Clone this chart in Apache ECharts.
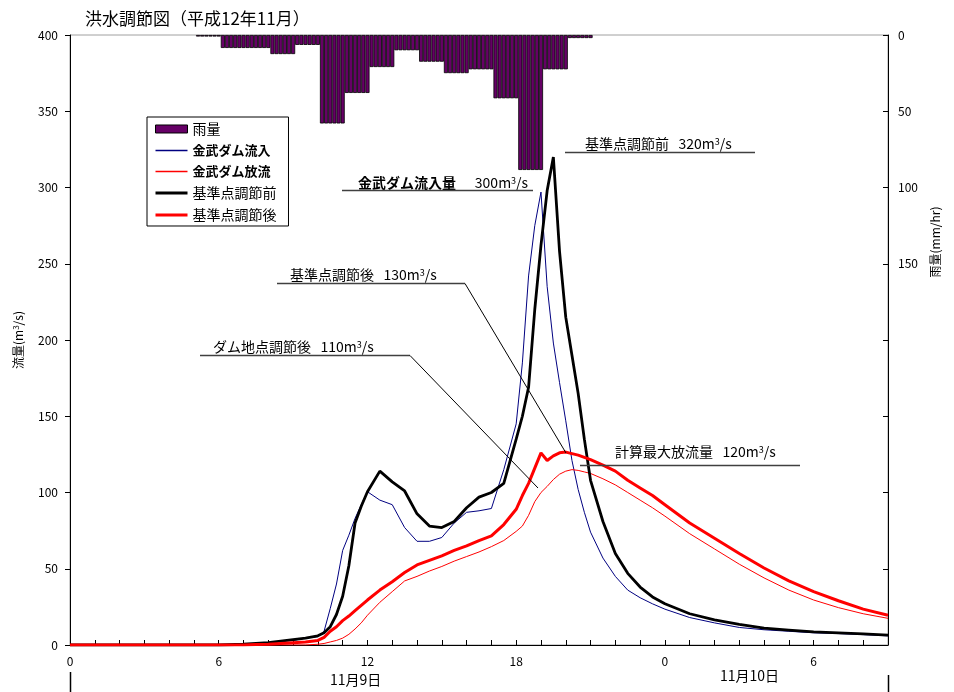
<!DOCTYPE html>
<html>
<head>
<meta charset="utf-8">
<script src="https://cdn.jsdelivr.net/npm/echarts@6/dist/echarts.min.js"></script>
<style>
html,body{margin:0;padding:0;background:#fff;}
#c{width:954px;height:692px;}
</style>
</head>
<body>
<div id="c"></div>
<script>
// time in hours from 11/9 0:00
var TIME = [0,1,2,3,4,5,6,7,7.5,8,8.5,9,9.5,10,10.25,10.5,10.75,11,11.25,11.5,11.75,12,12.5,13,13.5,14,14.5,15,15.5,16,16.5,17,17.5,18,18.25,18.5,18.75,19,19.25,19.5,19.75,20,20.25,20.5,20.75,21,21.5,22,22.5,23,23.5,24,25,26,27,28,29,30,31,32,33];
var DAM_INFLOW = [0,0,0,0,0,0,0,0.5, 1,1.5,2.5,3,4.5,5.5, 9,24,40,62,72,83,92,100.5, 95,92,77,68,68,70.5,80,87,88,89.5,115,145, 185,242,275,297,235,198,172,147,121,102,87,74, 57,45,36,31,27,23.5, 18,14.5,11.5,10,9,8,7.5,6.8,6];
var DAM_OUTFLOW = [0,0,0,0,0,0,0,0, 0,0,0,0,0,0.5, 1,2,3,4.5,7,10.5,14.5,19.5, 28,35,42,45,48.5,51.5,55,58,61,64.5,68.5,74.5, 78,85,94,100,104,108.5,112,114,115,114.5,113.5,112.5, 109,105,100,95,90,84.5, 73,63,53,44,36,29.5,24.5,20.5,17.5];
var BASE_BEFORE = [0,0,0,0,0,0,0,0.5, 1,1.5,2.5,3.5,4.5,6, 8,12,20,32,52,80,91,100.5, 114,107,101,86,78,77,81,90,97,100,106,135, 150,169,220,262,298,320,258,215,190,165,135,108, 81,60,47,38,31.5,27, 20.5,16.5,13.5,11,9.8,8.6,8,7.3,6.5];
var BASE_AFTER = [0,0,0,0,0,0,0,0, 0.3,0.5,1,1.5,2,3, 5,9,12,16,19,22.5,26,29.5, 36,41.5,47.5,52.5,55.5,58.5,62,65,68.5,71.5,79,89, 98,106,116,126,121,124,126,126.5,125.5,124.5,123,121.5, 118,114,108,103,98,92, 80,70,60,50.5,42,35,29,23.5,19.5];
// hourly rainfall (mm/hr); block for hour h covers h..h+1
var RAIN_HOURS = [5,6,7,8,9,10,11,12,13,14,15,16,17,18,19,20];
var RAIN = [1,8.5,8.5,12.5,6.5,58,38,21,10,17.5,25,22.5,41.5,88.5,22.5,2];
var X_TICK_LABELS = ['0','6','12','18','0','6'];

var NAMES = ['雨量','金武ダム流入','金武ダム放流','基準点調節前','基準点調節後'];

function pairs(vals){ return TIME.map(function(t,i){ return [t, vals[i]]; }); }
// rainfall drawn as 10-minute bars (6 per hour, each carrying the hourly value)
var rainData = [];
RAIN_HOURS.forEach(function(h, i){
  for (var k = 1; k <= 6; k++) rainData.push([h + k/6, RAIN[i]]);
});

var FONT = '"Noto Sans CJK JP", sans-serif';
var chart = echarts.init(document.getElementById('c'), null, {renderer:'canvas'});

var THIN_ICON = 'path://M0,0L64,0L64,3L0,3Z';
var THICK_ICON = 'path://M0,0L64,0L64,6L0,6Z';

var option = {
  animation:false,
  backgroundColor:'#fff',
  title:{text:'洪水調節図（平成12年11月）', left:80, top:5, textStyle:{fontFamily:FONT, fontSize:17, fontWeight:'normal', color:'#000'}},
  grid:{left:70, right:66, top:35, bottom:47, show:true, borderColor:'#a0a0a0', borderWidth:1},
  legend:{
    orient:'vertical', left:147, top:117, padding:[5,12,4,8],
    itemWidth:32, itemHeight:8, itemGap:8,
    borderColor:'#000', borderWidth:1, backgroundColor:'#fff',
    textStyle:{fontFamily:FONT, fontSize:14, color:'#000'},
    data:[
      {name:NAMES[0], icon:'rect', itemStyle:{color:'#660066', borderColor:'#000', borderWidth:1}},
      {name:NAMES[1], icon:THIN_ICON, itemStyle:{color:'#000080', borderWidth:0}, textStyle:{fontWeight:'bold', fontSize:13}},
      {name:NAMES[2], icon:THIN_ICON, itemStyle:{color:'#ff0000', borderWidth:0}, textStyle:{fontWeight:'bold', fontSize:13}},
      {name:NAMES[3], icon:THICK_ICON, itemStyle:{color:'#000000', borderWidth:0}},
      {name:NAMES[4], icon:THICK_ICON, itemStyle:{color:'#ff0000', borderWidth:0}}
    ]
  },
  xAxis:{
    type:'value', min:0, max:33, interval:1,
    axisLine:{lineStyle:{color:'#000', width:1}},
    axisTick:{inside:true, length:5, lineStyle:{color:'#000'}},
    splitLine:{show:false},
    axisLabel:{margin:10, fontFamily:FONT, fontSize:12, color:'#000',
      formatter:function(v){ return (v % 6 === 0) ? X_TICK_LABELS[v/6] : ''; }}
  },
  yAxis:[
    {type:'value', min:0, max:400, interval:50, position:'left',
     name:'流量(m{sup|3}/s)', nameLocation:'middle', nameGap:46, nameRotate:90,
     nameTextStyle:{fontFamily:FONT, fontSize:12, color:'#000', rich:{sup:{fontSize:8, verticalAlign:'top', fontFamily:FONT}}},
     axisLine:{show:true, lineStyle:{color:'#000'}},
     axisTick:{show:true, inside:false, length:5, lineStyle:{color:'#000'}},
     splitLine:{show:false},
     axisLabel:{margin:12, fontFamily:FONT, fontSize:12, color:'#000'}},
    {type:'value', min:0, max:400, interval:50, position:'right', inverse:true,
     axisLine:{show:true, lineStyle:{color:'#000'}},
     axisTick:{show:true, inside:true, length:5, lineStyle:{color:'#000'}},
     splitLine:{show:false},
     axisLabel:{margin:10, fontFamily:FONT, fontSize:12, color:'#000',
       formatter:function(v){ return v <= 150 ? String(v) : ''; }}}
  ],
  series:[
    {name:NAMES[0], type:'bar', yAxisIndex:1, data:rainData, barWidth:4.12,
     itemStyle:{color:'#660066', borderColor:'#000', borderWidth:0.8}, z:1},
    {name:NAMES[1], type:'line', data:pairs(DAM_INFLOW), symbol:'none', z:3,
     lineStyle:{color:'#000080', width:1}, itemStyle:{color:'#000080'}},
    {name:NAMES[2], type:'line', data:pairs(DAM_OUTFLOW), symbol:'none', z:3,
     lineStyle:{color:'#ff0000', width:1}, itemStyle:{color:'#ff0000'}},
    {name:NAMES[3], type:'line', data:pairs(BASE_BEFORE), symbol:'none', z:4,
     lineStyle:{color:'#000', width:2.8}, itemStyle:{color:'#000'}},
    {name:NAMES[4], type:'line', data:pairs(BASE_AFTER), symbol:'none', z:4,
     lineStyle:{color:'#ff0000', width:3}, itemStyle:{color:'#ff0000'}}
  ],
  graphic:[]
};

var SUP = {fontSize:9, verticalAlign:'top', fontFamily:FONT, fill:'#000'};
function annText(x, y, text){
  return {type:'text', x:x, y:y, z:10, style:{text:text, fontFamily:FONT, fontSize:14, fill:'#000', textVerticalAlign:'middle',
    rich:{sup:SUP, b:{fontFamily:FONT, fontSize:14, fontWeight:'bold', fill:'#000'}}}};
}
function ln(x1,y1,x2,y2,color,w){
  return {type:'line', z:10, shape:{x1:x1,y1:y1,x2:x2,y2:y2}, style:{stroke:color, lineWidth:w}};
}
option.graphic = [
  annText(585, 144, '基準点調節前   320m{sup|3}/s'),
  ln(565, 152.5, 755, 152.5, '#404040', 1.5),
  annText(358, 183, '{b|金武ダム流入量}      300m{sup|3}/s'),
  ln(342, 190.5, 533, 190.5, '#404040', 1.5),
  annText(290, 275, '基準点調節後   130m{sup|3}/s'),
  ln(277, 283.5, 465, 283.5, '#404040', 1.5),
  ln(465, 283.5, 566, 453, '#000', 1),
  annText(213, 347, 'ダム地点調節後   110m{sup|3}/s'),
  ln(200, 355.5, 410, 355.5, '#404040', 1.5),
  ln(410, 355.5, 538, 488, '#000', 1),
  annText(615, 452, '計算最大放流量   120m{sup|3}/s'),
  ln(580, 465.5, 800, 465.5, '#404040', 1.5),
  {type:'text', x:330, y:680, z:10, style:{text:'11月9日', fontFamily:FONT, fontSize:14, fill:'#000', textVerticalAlign:'middle'}},
  {type:'text', x:720, y:676, z:10, style:{text:'11月10日', fontFamily:FONT, fontSize:14, fill:'#000', textVerticalAlign:'middle'}},
  ln(70.5, 672, 70.5, 692, '#000', 1.5),
  ln(888.5, 675, 888.5, 692, '#000', 1.5),
  {type:'text', x:935, y:242, rotation:Math.PI/2, z:10,
   style:{text:'雨量(mm/hr)', fontFamily:FONT, fontSize:12, fill:'#000', textAlign:'center', textVerticalAlign:'middle'}}
];

chart.setOption(option);
</script>
</body>
</html>
